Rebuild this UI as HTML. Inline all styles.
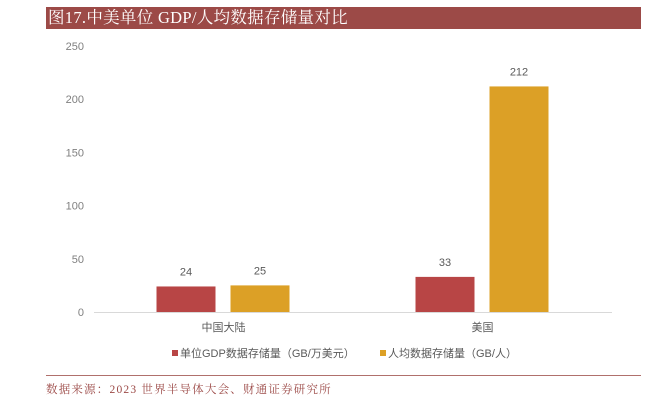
<!DOCTYPE html>
<html><head><meta charset="utf-8"><style>
body{margin:0;width:664px;height:403px;background:#fff;overflow:hidden;font-family:"Liberation Sans","Noto Sans CJK SC",sans-serif}
#title{position:absolute;left:46px;top:7px;width:595px;height:22px;background:#9c4a47;color:#fff;font-family:"Liberation Serif","Noto Serif CJK SC",serif;font-size:16.5px;letter-spacing:0.3px;line-height:22px;padding-left:2px;box-sizing:border-box}
#src{position:absolute;left:46px;top:381px;font-family:"Liberation Serif","Noto Serif CJK SC",serif;font-size:11.5px;letter-spacing:1.2px;color:#9c4a47}
#rule{position:absolute;left:46px;top:375px;width:595px;height:1px;background:#b0706c}
</style></head><body>
<div id="title">图17.中美单位 GDP/人均数据存储量对比</div>
<svg id="c" width="664" height="403" style="position:absolute;left:0;top:0"></svg>
<div id="rule"></div>
<div id="src">数据来源：2023 世界半导体大会、财通证券研究所</div>
<script>
const categories=["中国大陆","美国"];
const seriesNames=["单位GDP数据存储量（GB/万美元）","人均数据存储量（GB/人）"];
const series1=[24,33];
const series2=[25,212];
const ticks=[0,50,100,150,200,250];
const colors=["#b84545","#dca026"];
const svg=document.getElementById('c');const NS="http://www.w3.org/2000/svg";
function mk(t,a,txt){const e=document.createElementNS(NS,t);for(const k in a)e.setAttribute(k,a[k]);if(txt!=null)e.textContent=txt;svg.appendChild(e);return e;}
const x0=94,x1=612,y0=312,yTop=46,maxV=250;
const y=v=>y0-(y0-yTop)*v/maxV;
const bw=(x1-x0)/categories.length;
const cx=i=>x0+bw*(i+0.5);
ticks.forEach(t=>{const e=mk('text',{x:84,y:y(t)+4,'text-anchor':'end','font-size':11,fill:'#7f7f7f'},t);
});
const ax=mk('line',{x1:x0,x2:x1,y1:y0+0.5,y2:y0+0.5,stroke:'#d9d9d9'});

[series1,series2].forEach((s,si)=>{s.forEach((v,i)=>{
 const bx=cx(i)+(si===0?-67:7);
 const r=mk('rect',{x:bx,y:y(v),width:59,height:y0-y(v),fill:colors[si]});
 
 const l=mk('text',{x:bx+29.5,y:y(v)-11,'text-anchor':'middle','font-size':11,fill:'#595959'},v);
 
});});
categories.forEach((c,i)=>{const e=mk('text',{x:cx(i),y:331,'text-anchor':'middle','font-size':11,fill:'#595959'},c);
});
const lx=[172,380];
seriesNames.forEach((n,i)=>{
 const r=mk('rect',{x:lx[i],y:350,width:6,height:6,fill:colors[i]});
 
 const t=mk('text',{x:lx[i]+8,y:357,'font-size':11,fill:'#595959'},n);
 
});
</script>
</body></html>
